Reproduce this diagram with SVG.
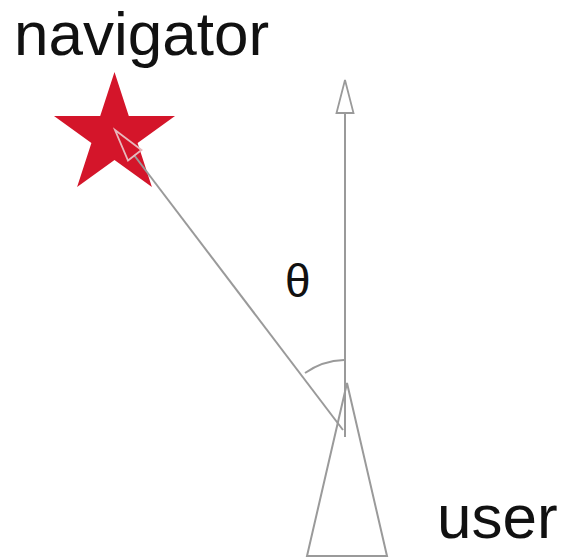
<svg xmlns="http://www.w3.org/2000/svg" width="561" height="558" viewBox="0 0 561 558">
<style>
.ln{stroke:#9a9a9a;stroke-width:2;fill:none}
.hd{stroke:#9a9a9a;stroke-width:1.8;fill:none;stroke-linejoin:miter}
.lbl{font-family:"Liberation Sans",Arial,sans-serif;fill:#111}
</style>
<rect width="561" height="558" fill="#fff"/>
<g id="navigator">
<polygon fill="#d4152a" points="114.5,72 128.8,115.9 175,116 137.6,143.1 151.9,187 114.5,159.9 77.1,187 91.4,143.1 54,116 100.2,115.9"/>
<text class="lbl" x="14" y="55" font-size="62">navigator</text>
</g>
<g id="user">
<polygon class="ln" points="347,383 307,556 387,556"/>
<text class="lbl" x="437" y="538" font-size="62">user</text>
</g>
<g id="angle">
<path class="ln" d="M305,373 A72,72 0 0 1 344,360"/>
<text class="lbl" x="285" y="297" font-size="46">θ</text>
</g>
<g id="connectors">
<line class="ln" x1="345" y1="437" x2="345" y2="112"/>
<polygon class="hd" points="345,80 336.5,113 353.5,113"/>
<line class="ln" x1="343" y1="430" x2="134" y2="155"/>
<polygon class="hd" fill="none" points="115,130 141.5,150 128,160.5" style="stroke:#e8b8bc"/>
</g>
</svg>
